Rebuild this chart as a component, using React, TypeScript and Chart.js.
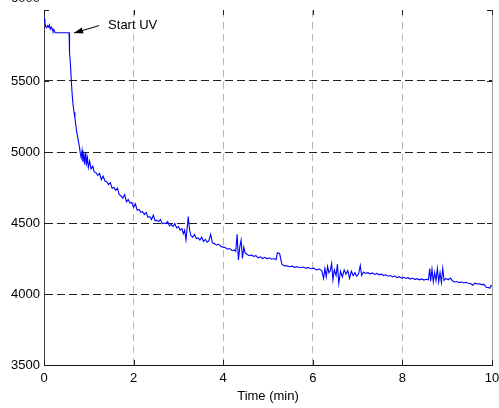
import React, { useEffect, useRef } from "react";
import { Chart, registerables } from "chart.js";

Chart.register(...registerables);

const times: number[] = [
  0.0, 0.02, 0.04, 0.06, 0.08, 0.1, 0.12, 0.14, 0.16, 0.18, 0.2, 0.22, 0.25, 0.56, 0.57, 0.59, 0.61, 0.63, 0.65, 0.67,
  0.69, 0.71, 0.73, 0.75, 0.77, 0.79, 0.81, 0.83, 0.85, 0.87, 0.89, 0.91, 0.93, 0.95, 0.97, 0.99, 1.02, 1.05, 1.09, 1.12,
  1.16, 1.2, 1.24, 1.28, 1.32, 1.36, 1.4, 1.44, 1.48, 1.52, 1.56, 1.6, 1.64, 1.68, 1.72, 1.76, 1.8, 1.84, 1.88, 1.92,
  1.96, 2.0, 2.04, 2.08, 2.12, 2.16, 2.2, 2.24, 2.28, 2.32, 2.36, 2.4, 2.44, 2.48, 2.52, 2.56, 2.6, 2.64, 2.68, 2.72,
  2.76, 2.8, 2.84, 2.88, 2.92, 2.96, 3.0, 3.04, 3.08, 3.11, 3.14, 3.17, 3.22, 3.25, 3.28, 3.32, 3.36, 3.4, 3.44, 3.48,
  3.52, 3.56, 3.6, 3.64, 3.68, 3.72, 3.76, 3.8, 3.85, 3.9, 3.95, 4.0, 4.05, 4.1, 4.15, 4.2, 4.25, 4.28, 4.31, 4.34,
  4.37, 4.4, 4.43, 4.46, 4.49, 4.53, 4.58, 4.63, 4.68, 4.73, 4.78, 4.83, 4.88, 4.93, 4.98, 5.03, 5.08, 5.13, 5.18, 5.21,
  5.26, 5.31, 5.36, 5.42, 5.48, 5.54, 5.6, 5.66, 5.72, 5.78, 5.84, 5.9, 5.96, 6.02, 6.08, 6.14, 6.2, 6.24, 6.27, 6.3,
  6.33, 6.36, 6.39, 6.42, 6.45, 6.48, 6.52, 6.55, 6.58, 6.62, 6.66, 6.7, 6.74, 6.78, 6.82, 6.86, 6.9, 6.94, 6.98, 7.02,
  7.06, 7.09, 7.13, 7.18, 7.23, 7.28, 7.33, 7.38, 7.43, 7.48, 7.53, 7.58, 7.63, 7.68, 7.73, 7.78, 7.83, 7.88, 7.93, 7.98,
  8.03, 8.08, 8.13, 8.18, 8.23, 8.28, 8.33, 8.38, 8.43, 8.48, 8.53, 8.58, 8.61, 8.63, 8.66, 8.69, 8.72, 8.75, 8.78, 8.81,
  8.84, 8.87, 8.9, 8.93, 8.97, 9.02, 9.07, 9.12, 9.17, 9.22, 9.27, 9.32, 9.37, 9.42, 9.47, 9.52, 9.57, 9.62, 9.67, 9.72,
  9.77, 9.82, 9.87, 9.92, 9.95, 9.98, 10.0,
];

const values: number[] = [
  5940, 5910, 5880, 5875, 5890, 5880, 5895, 5865, 5880, 5870, 5850, 5860, 5840, 5840, 5700, 5620, 5500, 5400, 5330, 5280,
  5240, 5190, 5140, 5110, 5070, 5040, 4990, 4960, 5010, 4930, 4990, 4910, 5000, 4920, 4960, 4890, 4935, 4880, 4900, 4860,
  4855, 4835, 4850, 4805, 4830, 4795, 4790, 4770, 4785, 4745, 4750, 4730, 4745, 4700, 4690, 4675, 4700, 4650, 4665, 4640,
  4645, 4610, 4635, 4590, 4595, 4575, 4580, 4560, 4575, 4540, 4545, 4525, 4555, 4515, 4520, 4510, 4525, 4495, 4500, 4495,
  4510, 4480, 4490, 4475, 4495, 4465, 4475, 4450, 4460, 4425, 4450, 4380, 4545, 4450, 4410, 4400, 4420, 4390, 4395, 4380,
  4400, 4370, 4385, 4365, 4375, 4420, 4360, 4355, 4345, 4350, 4335, 4330, 4325, 4315, 4320, 4305, 4310, 4300, 4420, 4240,
  4330, 4380, 4250, 4330, 4290, 4280, 4270, 4275, 4265, 4270, 4255, 4262, 4250, 4258, 4248, 4255, 4245, 4250, 4242, 4290,
  4285, 4210, 4200, 4198, 4192, 4196, 4188, 4192, 4185, 4190, 4182, 4186, 4178, 4182, 4170, 4176, 4165, 4110, 4180, 4120,
  4195, 4150, 4165, 4215, 4100, 4170, 4130, 4210, 4075, 4160, 4120, 4170, 4140, 4165, 4110, 4160, 4130, 4150, 4125, 4140,
  4200, 4130, 4155, 4145, 4150, 4142, 4148, 4138, 4145, 4135, 4140, 4130, 4135, 4125, 4130, 4120, 4128, 4115, 4122, 4112,
  4118, 4110, 4115, 4105, 4112, 4102, 4108, 4100, 4106, 4098, 4104, 4100, 4180, 4090, 4175, 4085, 4150, 4095, 4180, 4085,
  4150, 4080, 4180, 4095, 4110, 4100, 4112, 4092, 4085, 4088, 4080, 4084, 4078, 4082, 4076, 4074, 4062, 4076, 4070, 4072,
  4066, 4068, 4048, 4045, 4040, 4060, 4055,
];

const xTicks: number[] = [0, 2, 4, 6, 8, 10];
const yTicks: number[] = [3500, 4000, 4500, 5000, 5500, 6000];
const xTitle = "Time (min)";
const annotationText = "Start UV";
const annotationTip = { x: 0.67, y: 5838 };
const annotationTail = { x: 1.23, y: 5890 };

const FONT = "Liberation Sans, Arial, Helvetica, sans-serif";

const decorPlugin = {
  id: "decor",
  afterDraw(chart: any) {
    const { ctx, chartArea } = chart;
    const xs = chart.scales.x;
    const ys = chart.scales.y;
    const { left, right, top, bottom } = chartArea;
    ctx.save();
    ctx.strokeStyle = "#9a9a9a";
    ctx.lineWidth = 1;
    ctx.beginPath();
    ctx.moveTo(Math.round(right) + 0.5, top);
    ctx.lineTo(Math.round(right) + 0.5, bottom);
    ctx.stroke();
    ctx.strokeStyle = "#222";
    ctx.beginPath();
    for (const t of xTicks) {
      const px = Math.round(xs.getPixelForValue(t)) + 0.5;
      ctx.moveTo(px, bottom);
      ctx.lineTo(px, bottom - 5);
      ctx.moveTo(px, top);
      ctx.lineTo(px, top + 5);
    }
    for (const v of yTicks) {
      const py = Math.round(ys.getPixelForValue(v)) + 0.5;
      ctx.moveTo(left, py);
      ctx.lineTo(left + 5, py);
      ctx.moveTo(right, py);
      ctx.lineTo(right - 5, py);
    }
    ctx.stroke();
    ctx.fillStyle = "#000";
    ctx.font = `13px ${FONT}`;
    ctx.textAlign = "right";
    ctx.textBaseline = "middle";
    ctx.fillText(String(yTicks[yTicks.length - 1]), left - 4, ys.getPixelForValue(yTicks[yTicks.length - 1]) - 12);
    const tx = xs.getPixelForValue(annotationTip.x);
    const ty = ys.getPixelForValue(annotationTip.y);
    const sx = xs.getPixelForValue(annotationTail.x);
    const sy = ys.getPixelForValue(annotationTail.y);
    ctx.strokeStyle = "#000";
    ctx.beginPath();
    ctx.moveTo(sx, sy);
    ctx.lineTo(tx, ty);
    ctx.stroke();
    const ang = Math.atan2(ty - sy, tx - sx);
    const hl = 9;
    const hw = 3.2;
    const bx = tx - hl * Math.cos(ang);
    const by = ty - hl * Math.sin(ang);
    ctx.fillStyle = "#000";
    ctx.beginPath();
    ctx.moveTo(tx, ty);
    ctx.lineTo(bx + hw * Math.sin(ang), by - hw * Math.cos(ang));
    ctx.lineTo(bx - hw * Math.sin(ang), by + hw * Math.cos(ang));
    ctx.closePath();
    ctx.fill();
    ctx.textAlign = "left";
    ctx.fillText(annotationText, sx + 9, sy);
    ctx.restore();
  },
};

export default function App() {
  const ref = useRef<HTMLCanvasElement | null>(null);
  useEffect(() => {
    if (!ref.current) return;
    const points = times.map((t, i) => ({ x: t, y: values[i] }));
    const chart = new Chart(ref.current, {
      type: "line",
      data: {
        datasets: [
          {
            data: points,
            borderColor: "#0000ff",
            borderWidth: 1.1,
            pointRadius: 0,
            tension: 0,
            fill: false,
          },
        ],
      },
      plugins: [decorPlugin],
      options: {
        animation: false,
        responsive: false,
        maintainAspectRatio: false,
        events: [],
        layout: { padding: { top: 10, right: 7, left: 0, bottom: 0 } },
        plugins: { legend: { display: false }, tooltip: { enabled: false } },
        scales: {
          x: {
            type: "linear",
            min: 0,
            max: 10,
            afterBuildTicks: (s: any) => {
              s.ticks = xTicks.map((v) => ({ value: v }));
            },
            afterFit: (s: any) => {
              s.height = 43;
              s.paddingLeft = 0;
              s.paddingRight = 0;
            },
            ticks: {
              color: "#000",
              font: { family: FONT, size: 13 },
              padding: 6,
              maxRotation: 0,
              autoSkip: false,
            },
            title: {
              display: true,
              text: xTitle,
              color: "#000",
              font: { family: FONT, size: 13 },
              padding: { top: 0, bottom: 4 },
            },
            grid: {
              drawTicks: false,
              color: (c: any) => (c.tick && (c.tick.value === 0 || c.tick.value === 10) ? "rgba(0,0,0,0)" : "#b8b8b8"),
              lineWidth: 1,
            },
            border: { display: true, color: "#111", width: 1, dash: [7, 5] },
          },
          y: {
            type: "linear",
            min: 3500,
            max: 6000,
            afterBuildTicks: (s: any) => {
              s.ticks = yTicks.map((v) => ({ value: v }));
            },
            afterFit: (s: any) => {
              s.width = 44;
              s.paddingTop = 0;
              s.paddingBottom = 0;
            },
            ticks: {
              color: "#000",
              font: { family: FONT, size: 13 },
              padding: 4,
              callback: (v: any) => (v === yTicks[yTicks.length - 1] ? "" : String(v)),
            },
            grid: {
              drawTicks: false,
              color: (c: any) =>
                c.tick && (c.tick.value === 3500 || c.tick.value === 6000) ? "rgba(0,0,0,0)" : "#222",
              lineWidth: 1,
            },
            border: { display: true, color: "#444", width: 1, dash: [8, 4] },
          },
        },
      },
    });
    return () => chart.destroy();
  }, []);
  return (
    <div style={{ position: "fixed", left: 0, top: 0, width: 499, height: 408, background: "#fff" }}>
      <canvas ref={ref} width={499} height={408} style={{ width: 499, height: 408, display: "block" }} />
    </div>
  );
}
